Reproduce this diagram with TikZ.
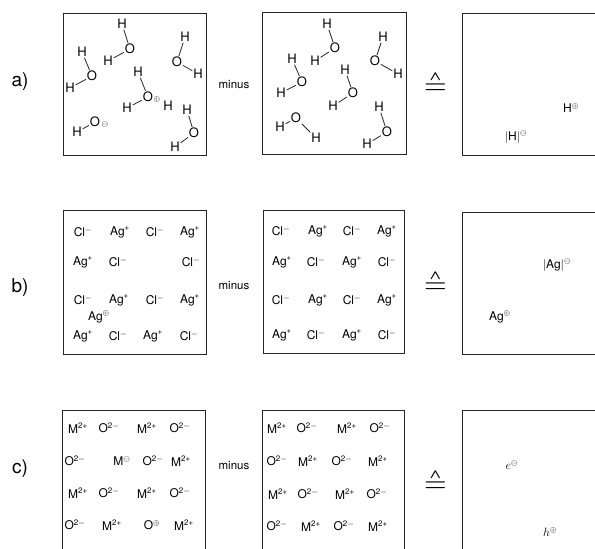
\documentclass[tikz,border=0pt]{standalone}
\usepackage{fontspec}
\setmainfont{TeX Gyre Heros}
\newfontfamily\lmmath{latinmodern-math.otf}
\newcommand\ch[1]{\textsuperscript{#1}}
\begin{document}
\begin{tikzpicture}[x=1pt,y=-1pt,
  box/.style={draw=black!85, line width=0.9pt},
  atom/.style={inner sep=0.8pt, font=\fontsize{13}{13}\selectfont},
  chg/.style={inner sep=0pt, font=\fontsize{12}{12}\selectfont},
  ion/.style={inner sep=0pt, font=\fontsize{12}{12}\selectfont},
  bond/.style={draw=black!85, line width=0.8pt},
  tag/.style={font=\fontsize{19}{19}\selectfont},
  word/.style={font=\fontsize{11.5}{11.5}\selectfont},
  eqv/.style={inner sep=0pt, font=\lmmath\fontsize{29}{29}\selectfont}]
\useasboundingbox (0,0) rectangle (595,549);

% ---------- boxes ----------
\draw[box] (63,13) rectangle (206,155);
\draw[box] (262,12) rectangle (406,154);
\draw[box] (595,13) -- (462,13) -- (462,155) -- (595,155);
\draw[box] (63,210) rectangle (206,354);
\draw[box] (263,210) rectangle (404,353);
\draw[box] (595,212) -- (462,212) -- (462,354) -- (595,354);
\draw[box] (62,549) -- (62,410) -- (205,410) -- (205,549);
\draw[box] (262,549) -- (262,410) -- (404,410) -- (404,549);
\draw[box] (595,410) -- (462,410) -- (462,549);

% ---------- row labels, minus, correspondence ----------
\node[tag] (la) at (20,82) {a)};
\node[tag] (lb) at (20,288) {b)};
\node[tag] (lc) at (20,469) {c)};
\node[word] (ma) at (234,85) {minus};
\node[word] (mb) at (234,286) {minus};
\node[word] (mc) at (234,466) {minus};
\node[eqv] (ea) at (436,84) {≙};
\node[eqv] (eb) at (436,283) {≙};
\node[eqv] (ec) at (436,482) {≙};

% ---------- row a, box 1 ----------
\node[atom] (a1h1) at (82,52) {H};
\node[atom] (a1o) at (92,76) {O};
\node[atom] (a1h2) at (70,88) {H};
\draw[bond] (a1h1) -- (a1o) (a1o) -- (a1h2);
\node[atom] (a2h1) at (122,24) {H};
\node[atom] (a2o) at (130,49) {O};
\node[atom] (a2h2) at (108,61) {H};
\draw[bond] (a2h1) -- (a2o) (a2o) -- (a2h2);
\node[atom] (a3h1) at (185,37) {H};
\node[atom] (a3o) at (177,62) {O};
\node[atom] (a3h2) at (198,74) {H};
\draw[bond] (a3h1) -- (a3o) (a3o) -- (a3h2);
\node[atom] (a4h1) at (138,72) {H};
\node[atom] (a4o) at (148,97) {O};
\node[chg] (a4c) at (157,99) {$\scriptstyle\oplus$};
\node[atom] (a4h2) at (127,108) {H};
\node[atom] (a4h3) at (168,106) {H};
\draw[bond] (a4h1) -- (a4o) (a4o) -- (a4h2);
\node[atom] (a5h) at (77,132) {H};
\node[atom] (a5o) at (95,122) {O};
\node[chg] (a5c) at (105,124) {$\scriptstyle\ominus$};
\draw[bond] (a5h) -- (a5o);
\node[atom] (a6h1) at (187,110) {H};
\node[atom] (a6o) at (194,133) {O};
\node[atom] (a6h2) at (175,147) {H};
\draw[bond] (a6h1) -- (a6o) (a6o) -- (a6h2);

% ---------- row a, box 2 ----------
\node[atom] (b1h1) at (327,24) {H};
\node[atom] (b1o) at (335,48) {O};
\node[atom] (b1h2) at (315,61) {H};
\draw[bond] (b1h1) -- (b1o) (b1o) -- (b1h2);
\node[atom] (b2h1) at (383,37) {H};
\node[atom] (b2o) at (375,61) {O};
\node[atom] (b2h2) at (398,74) {H};
\draw[bond] (b2h1) -- (b2o) (b2o) -- (b2h2);
\node[atom] (b3h1) at (292,59) {H};
\node[atom] (b3o) at (302,82) {O};
\node[atom] (b3h2) at (281,93) {H};
\draw[bond] (b3h1) -- (b3o) (b3o) -- (b3h2);
\node[atom] (b4h1) at (345,70) {H};
\node[atom] (b4o) at (353,93) {O};
\node[atom] (b4h2) at (333,106) {H};
\draw[bond] (b4h1) -- (b4o) (b4o) -- (b4h2);
\node[atom] (b5h1) at (280,127) {H};
\node[atom] (b5o) at (296,118) {O};
\node[atom] (b5h2) at (316,138) {H};
\draw[bond] (b5h1) -- (b5o) (b5o) -- (b5h2);
\node[atom] (b6h1) at (379,107) {H};
\node[atom] (b6o) at (387,132) {O};
\node[atom] (b6h2) at (367,144) {H};
\draw[bond] (b6h1) -- (b6o) (b6o) -- (b6h2);

% ---------- row a, box 3 ----------
\node[ion] (c1) at (571,108) {H$^{\oplus}$};
\node[ion] (c2) at (516,137) {$|$H$|^{\ominus}$};

% ---------- row b, box 1 ----------
\node[ion] (d11) at (83,232) {Cl\ch{$-$}};
\node[ion] (d12) at (120,232) {Ag\ch{+}};
\node[ion] (d13) at (155,232) {Cl\ch{$-$}};
\node[ion] (d14) at (190,232) {Ag\ch{+}};
\node[ion] (d21) at (83,262) {Ag\ch{+}};
\node[ion] (d22) at (118,262) {Cl\ch{$-$}};
\node[ion] (d24) at (191,262) {Cl\ch{$-$}};
\node[ion] (d31) at (83,300) {Cl\ch{$-$}};
\node[ion] (d32) at (119,300) {Ag\ch{+}};
\node[ion] (d33) at (155,300) {Cl\ch{$-$}};
\node[ion] (d34) at (190,300) {Ag\ch{+}};
\node[ion] (dx) at (99,317) {Ag$^{\oplus}$};
\node[ion] (d41) at (83,336) {Ag\ch{+}};
\node[ion] (d42) at (118,336) {Cl\ch{$-$}};
\node[ion] (d43) at (153,336) {Ag\ch{+}};
\node[ion] (d44) at (189,336) {Cl\ch{$-$}};

% ---------- row b, box 2 ----------
\node[ion] (e11) at (281,231) {Cl\ch{$-$}};
\node[ion] (e12) at (318,231) {Ag\ch{+}};
\node[ion] (e13) at (352,231) {Cl\ch{$-$}};
\node[ion] (e14) at (387,231) {Ag\ch{+}};
\node[ion] (e21) at (282,262) {Ag\ch{+}};
\node[ion] (e22) at (316,262) {Cl\ch{$-$}};
\node[ion] (e23) at (352,262) {Ag\ch{+}};
\node[ion] (e24) at (387,262) {Cl\ch{$-$}};
\node[ion] (e31) at (281,300) {Cl\ch{$-$}};
\node[ion] (e32) at (318,300) {Ag\ch{+}};
\node[ion] (e33) at (352,300) {Cl\ch{$-$}};
\node[ion] (e34) at (387,300) {Ag\ch{+}};
\node[ion] (e41) at (282,335) {Ag\ch{+}};
\node[ion] (e42) at (316,335) {Cl\ch{$-$}};
\node[ion] (e43) at (352,335) {Ag\ch{+}};
\node[ion] (e44) at (387,335) {Cl\ch{$-$}};

% ---------- row b, box 3 ----------
\node[ion] (f1) at (557,265) {$|$Ag$|^{\ominus}$};
\node[ion] (f2) at (500,317) {Ag$^{\oplus}$};

% ---------- row c, box 1 ----------
\node[ion] (g11) at (78,428) {M\ch{2+}};
\node[ion] (g12) at (109,428) {O\ch{2$-$}};
\node[ion] (g13) at (147,428) {M\ch{2+}};
\node[ion] (g14) at (180,428) {O\ch{2$-$}};
\node[ion] (g21) at (75,461) {O\ch{2$-$}};
\node[ion] (g22) at (122,461) {M$^{\ominus}$};
\node[ion] (g23) at (153,461) {O\ch{2$-$}};
\node[ion] (g24) at (181,461) {M\ch{2+}};
\node[ion] (g31) at (78,493) {M\ch{2+}};
\node[ion] (g32) at (109,493) {O\ch{2$-$}};
\node[ion] (g33) at (147,493) {M\ch{2+}};
\node[ion] (g34) at (180,493) {O\ch{2$-$}};
\node[ion] (g41) at (75,525) {O\ch{2$-$}};
\node[ion] (g42) at (112,525) {M\ch{2+}};
\node[ion] (g43) at (152,525) {O$^{\oplus}$};
\node[ion] (g44) at (184,525) {M\ch{2+}};

% ---------- row c, box 2 ----------
\node[ion] (h11) at (277,428) {M\ch{2+}};
\node[ion] (h12) at (307,428) {O\ch{2$-$}};
\node[ion] (h13) at (347,428) {M\ch{2+}};
\node[ion] (h14) at (380,428) {O\ch{2$-$}};
\node[ion] (h21) at (277,461) {O\ch{2$-$}};
\node[ion] (h22) at (308,461) {M\ch{2+}};
\node[ion] (h23) at (342,461) {O\ch{2$-$}};
\node[ion] (h24) at (378,461) {M\ch{2+}};
\node[ion] (h31) at (278,494) {M\ch{2+}};
\node[ion] (h32) at (308,494) {O\ch{2$-$}};
\node[ion] (h33) at (345,494) {M\ch{2+}};
\node[ion] (h34) at (377,494) {O\ch{2$-$}};
\node[ion] (h41) at (277,526) {O\ch{2$-$}};
\node[ion] (h42) at (311,526) {M\ch{2+}};
\node[ion] (h43) at (344,526) {O\ch{2$-$}};
\node[ion] (h44) at (378,526) {M\ch{2+}};

% ---------- row c, box 3 ----------
\node[ion] (k1) at (512,465) {$e^{\ominus}$};
\node[ion] (k2) at (550,532) {$h^{\oplus}$};
\end{tikzpicture}
\end{document}
